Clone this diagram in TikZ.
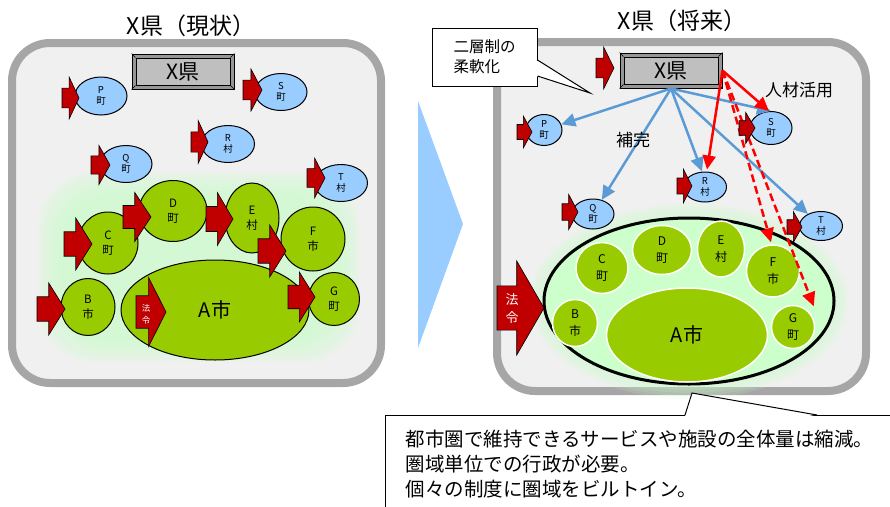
\documentclass[tikz,border=0pt]{standalone}
\usepackage{fontspec}
\setmainfont{Noto Sans CJK JP}
\usetikzlibrary{shapes.geometric,arrows.meta}

\definecolor{panelline}{HTML}{A6A6A6}
\definecolor{panelfill}{HTML}{F0F0F0}
\definecolor{townblue}{HTML}{99CCFF}
\definecolor{citygreen}{HTML}{99CC00}
\definecolor{glowgreen}{HTML}{CCFFCC}
\definecolor{lawred}{HTML}{C00000}
\definecolor{linkblue}{HTML}{5B9BD5}
\definecolor{linkred}{HTML}{FF0000}
\definecolor{boxgray}{HTML}{BFBFBF}
\definecolor{bevelgray}{HTML}{969696}

\begin{document}
\begin{tikzpicture}[
			x = 1pt,
			y = -1pt,
			panel/.style = {
				draw = panelline,
				line width = 8pt,
				fill = panelfill,
				rounded corners = 38pt,
			},
			headline/.style = {
				font = \fontsize{23}{28}\selectfont,
			},
			prefframe/.style = {
				shape = rectangle,
				draw,
				line width = 1pt,
				fill = bevelgray,
				minimum width = 102pt,
				minimum height = 35pt,
			},
			prefbox/.style = {
				shape = rectangle,
				draw,
				line width = 0.8pt,
				fill = boxgray,
				minimum width = 94pt,
				minimum height = 27pt,
				inner sep = 0pt,
				font = \fontsize{21}{24}\selectfont,
			},
			town/.style 2 args = {
				shape = ellipse,
				draw,
				line width = 1pt,
				fill = townblue,
				inner sep = 0pt,
				align = center,
				minimum width = #1,
				minimum height = #2,
				font = \fontsize{9.5}{11.5}\selectfont,
			},
			city/.style 2 args = {
				shape = ellipse,
				draw,
				line width = 1pt,
				fill = citygreen,
				inner sep = 0pt,
				align = center,
				minimum width = #1,
				minimum height = #2,
				font = \fontsize{11.5}{15}\selectfont,
			},
			member/.style 2 args = {
				shape = ellipse,
				draw = white,
				line width = 1.5pt,
				fill = citygreen,
				inner sep = 0pt,
				align = center,
				minimum width = #1,
				minimum height = #2,
				font = \fontsize{12}{17}\selectfont,
			},
			lawarrow/.style = {
				draw,
				line width = 0.6pt,
				fill = lawred,
			},
			lawtext/.style = {
				text = white,
				inner sep = 0pt,
				align = center,
			},
			pics/blockarrow/.style 2 args = {
				code = {
					\draw[lawarrow] (0,0) -- (-0.58*#1,-0.5*#2) -- (-0.58*#1,-0.235*#2) -- (-#1,-0.235*#2)
						-- (-#1,0.235*#2) -- (-0.58*#1,0.235*#2) -- (-0.58*#1,0.5*#2) -- cycle;
				}
			},
			support/.style = {
				draw = linkblue,
				line width = 2.5pt,
				-{Triangle[length = 14pt, width = 13pt]},
			},
			staff/.style = {
				draw = linkred,
				line width = 2.5pt,
				-{Triangle[length = 14pt, width = 13pt]},
			},
			notebox/.style = {
				shape = rectangle,
				draw,
				line width = 1pt,
				fill = white,
				align = left,
			},
	]
	\useasboundingbox (0,0) rectangle (890,506);

	% panels
	\draw[panel] (12,43) rectangle (381,383);
	\draw[panel] (497,42) rectangle (866,391);
	\fill[townblue] (418,101) -- (463,224) -- (418,348) -- cycle;

	\node (titleL) [headline] at (191,26) {X県（現状）};
	\node (titleR) [headline] at (682,21) {X県（将来）};

	% left: present state
	\foreach \g in {0,...,7}
		\fill[glowgreen, opacity = 0.14, rounded corners = 55pt] (38+3*\g,172+3*\g) rectangle (360-3*\g,362-3*\g);

	\node (prefLframe) [prefframe] at (183,71.5) {};
	\node (prefL) [prefbox] at (prefLframe) {X県};
	\draw (prefLframe.north west) -- (prefL.north west);
	\draw (prefLframe.north east) -- (prefL.north east);
	\draw (prefLframe.south west) -- (prefL.south west);
	\draw (prefLframe.south east) -- (prefL.south east);

	\node (pL) [town={52pt}{38pt}] at (101,96) {P\\町};
	\node (sL) [town={52pt}{37pt}] at (281,92) {S\\町};
	\node (rL) [town={53pt}{37pt}] at (228,144) {R\\村};
	\node (qL) [town={52pt}{37pt}] at (126,164) {Q\\町};
	\node (tL) [town={53pt}{37pt}] at (341,183) {T\\村};

	\node (cL) [city={60pt}{62pt}] at (108,243) {C\\町};
	\node (dL) [city={68pt}{61pt}] at (173,211) {D\\町};
	\node (eL) [city={54pt}{70pt}] at (252,218) {E\\村};
	\node (fL) [city={64pt}{64pt}] at (313,239) {F\\市};
	\node (gL) [city={51pt}{53pt}] at (334,299) {G\\町};
	\node (bL) [city={54pt}{57pt}] at (88,307) {B\\市};
	\node (aL) [city={188pt}{100pt}, font = \fontsize{20}{24}\selectfont] at (215,310) {A市};

	\pic at (79,98) {blockarrow={17}{42}};
	\pic at (262,90) {blockarrow={19}{42}};
	\pic at (208,142) {blockarrow={17}{43}};
	\pic at (110,165) {blockarrow={19}{39}};
	\pic at (325,178) {blockarrow={18}{40}};
	\pic at (92,244) {blockarrow={28}{52}};
	\pic at (151,217) {blockarrow={28}{49}};
	\pic at (233,219) {blockarrow={27}{53}};
	\pic at (286,251) {blockarrow={28}{52}};
	\pic at (315,297) {blockarrow={27}{50}};
	\pic at (65,309) {blockarrow={28}{52}};
	\pic at (166,312) {blockarrow={30}{69}};
	\node (lawL) [lawtext, font = \fontsize{8.5}{12}\selectfont] at (146,314) {法\\令};

	% right: future
	\foreach \g in {0,...,7}
		\fill[glowgreen, opacity = 0.15] (689,301) ellipse [x radius = 160-3*\g, y radius = 98-3*\g];
	\node (rim) [shape = ellipse, draw, line width = 3pt, fill = glowgreen, minimum width = 290pt, minimum height = 166pt] at (689,301) {};

	\node (cR) [member={52pt}{51pt}] at (602,268) {C\\町};
	\node (dR) [member={59pt}{49pt}] at (662,250) {D\\町};
	\node (eR) [member={47pt}{56pt}] at (721,249) {E\\村};
	\node (fR) [member={53pt}{52pt}] at (773,271) {F\\市};
	\node (gR) [member={43pt}{43pt}] at (793,327) {G\\町};
	\node (bR) [member={45pt}{47pt}] at (575,323) {B\\市};
	\node (aR) [member={161pt}{94pt}, font = \fontsize{20}{24}\selectfont] at (687,335) {A市};

	\node (prefRframe) [prefframe] at (671,70.5) {};
	\node (prefR) [prefbox] at (prefRframe) {X県};
	\draw (prefRframe.north west) -- (prefR.north west);
	\draw (prefRframe.north east) -- (prefR.north east);
	\draw (prefRframe.south west) -- (prefR.south west);
	\draw (prefRframe.south east) -- (prefR.south east);

	\node (pR) [town={36pt}{31pt}] at (544,130) {P\\町};
	\node (sR) [town={42pt}{33pt}] at (771,128) {S\\町};
	\node (rR) [town={43pt}{30pt}] at (705,187) {R\\村};
	\node (qR) [town={42pt}{30pt}] at (593,214) {Q\\町};
	\node (tR) [town={43pt}{29pt}] at (821,226) {T\\村};

	\draw[support] (prefRframe.south) -- (pR);
	\draw[support] (prefRframe.south) -- (qR);
	\draw[support] (prefRframe.south) -- ([shift={(-3,0)}]rR.north);
	\draw[support] (prefRframe.south) -- (sR.north);
	\draw[support] (prefRframe.south) -- (tR);
	\draw[staff] (prefRframe.east) -- ([shift={(-2,0)}]sR.north);
	\draw[staff] (prefRframe.east) -- ([shift={(2,-2)}]rR.north);
	\draw[staff, dash pattern = on 8pt off 4pt] (prefRframe.east) -- ([shift={(-2,-2)}]fR.north);
	\draw[staff, dash pattern = on 8pt off 4pt] (prefRframe.east) -- ([shift={(5,-5)}]gR.45);

	\pic at (614,68) {blockarrow={18}{42}};
	\pic at (532,132) {blockarrow={15}{32}};
	\pic at (755,128) {blockarrow={16}{31}};
	\pic at (692,186) {blockarrow={15}{34}};
	\pic at (578,212) {blockarrow={16}{35}};
	\pic at (802,227) {blockarrow={15}{31}};
	\pic at (544,308) {blockarrow={47}{94}};
	\node (lawR) [lawtext, font = \fontsize{13}{18}\selectfont] at (512,309) {法\\令};

	\node (hokan) [font = \fontsize{17}{20}\selectfont] at (633,140) {補完};
	\node (jinzai) [font = \fontsize{17}{20}\selectfont] at (799,90) {人材活用};

	% callouts
	\node (calloutA) [notebox, minimum width = 105pt, minimum height = 58pt, font = \fontsize{15.5}{20}\selectfont] at (484.5,57) {二層制の\\柔軟化};
	\coordinate (calloutAtip) at (590,93);
	\fill[white] ([shift={(-1.5,3)}]calloutA.east) -- (calloutAtip) -- ([shift={(-1.5,19)}]calloutA.east) -- cycle;
	\draw[line width = 1pt] ([shift={(0,3)}]calloutA.east) -- (calloutAtip) -- ([shift={(0,19)}]calloutA.east);

	\node (calloutB) [notebox, anchor = north west, inner xsep = 20pt, inner ysep = 0pt, minimum height = 98pt, text width = 500pt, font = \fontsize{19.5}{25}\selectfont] at (385,415) {都市圏で維持できるサービスや施設の全体量は縮減。\\圏域単位での行政が必要。\\個々の制度に圏域をビルトイン。};
	\coordinate (calloutBtip) at (692,393);
	\fill[white] ([shift={(300,1.5)}]calloutB.north west) -- (calloutBtip) -- ([shift={(432,1.5)}]calloutB.north west) -- cycle;
	\draw[line width = 1pt] ([shift={(300,0)}]calloutB.north west) -- (calloutBtip) -- ([shift={(432,0)}]calloutB.north west);
\end{tikzpicture}
\end{document}
